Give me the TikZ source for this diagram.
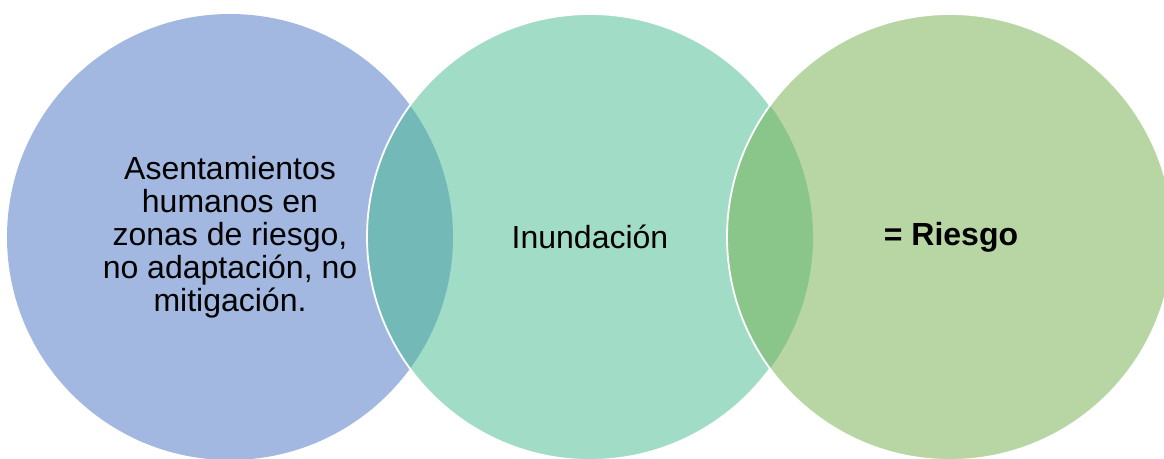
\documentclass[tikz,border=0pt]{standalone}
\usepackage{fontspec}
\setmainfont{Liberation Sans}
\definecolor{cblue}{HTML}{A2B8E0}
\definecolor{cteal}{HTML}{A1DCC7}
\definecolor{cgreen}{HTML}{B8D6A4}
\definecolor{lensone}{HTML}{73B9B8}
\definecolor{lenstwo}{HTML}{8AC58A}
\tikzset{
  circ/.style={circle, minimum size=446pt, inner sep=0pt, draw=none},
  rim/.style={draw=white, line width=1.8pt},
  lbl/.style={align=center, font=\fontsize{32}{33}\selectfont, text=black, inner sep=0pt},
}
\begin{document}
\begin{tikzpicture}[x=1pt,y=-1pt]
\useasboundingbox (0,0) rectangle (1164,458);
\clip (0,0) rectangle (1164,458);
\node[circ, fill=cblue] (a) at (230,237) {};
\node[circ, fill=cteal] (b) at (590,237) {};
\begin{scope}
  \clip (230,237) circle[radius=223];
  \fill[lensone] (590,237) circle[radius=223];
\end{scope}
\draw[rim] (590,237) circle[radius=223];
\node[circ, fill=cgreen] (c) at (950,237) {};
\begin{scope}
  \clip (590,237) circle[radius=223];
  \fill[lenstwo] (950,237) circle[radius=223];
\end{scope}
\draw[rim] (950,237) circle[radius=223];
\node[lbl] (ta) at (230,237) {Asentamientos\\humanos en\\zonas de riesgo,\\no adaptación, no\\mitigación.};
\node[lbl] (tb) at (590,237) {Inundación};
\node[lbl, font=\fontsize{32}{33}\selectfont\bfseries] (tc) at (951,237) {= Riesgo};
\end{tikzpicture}
\end{document}
